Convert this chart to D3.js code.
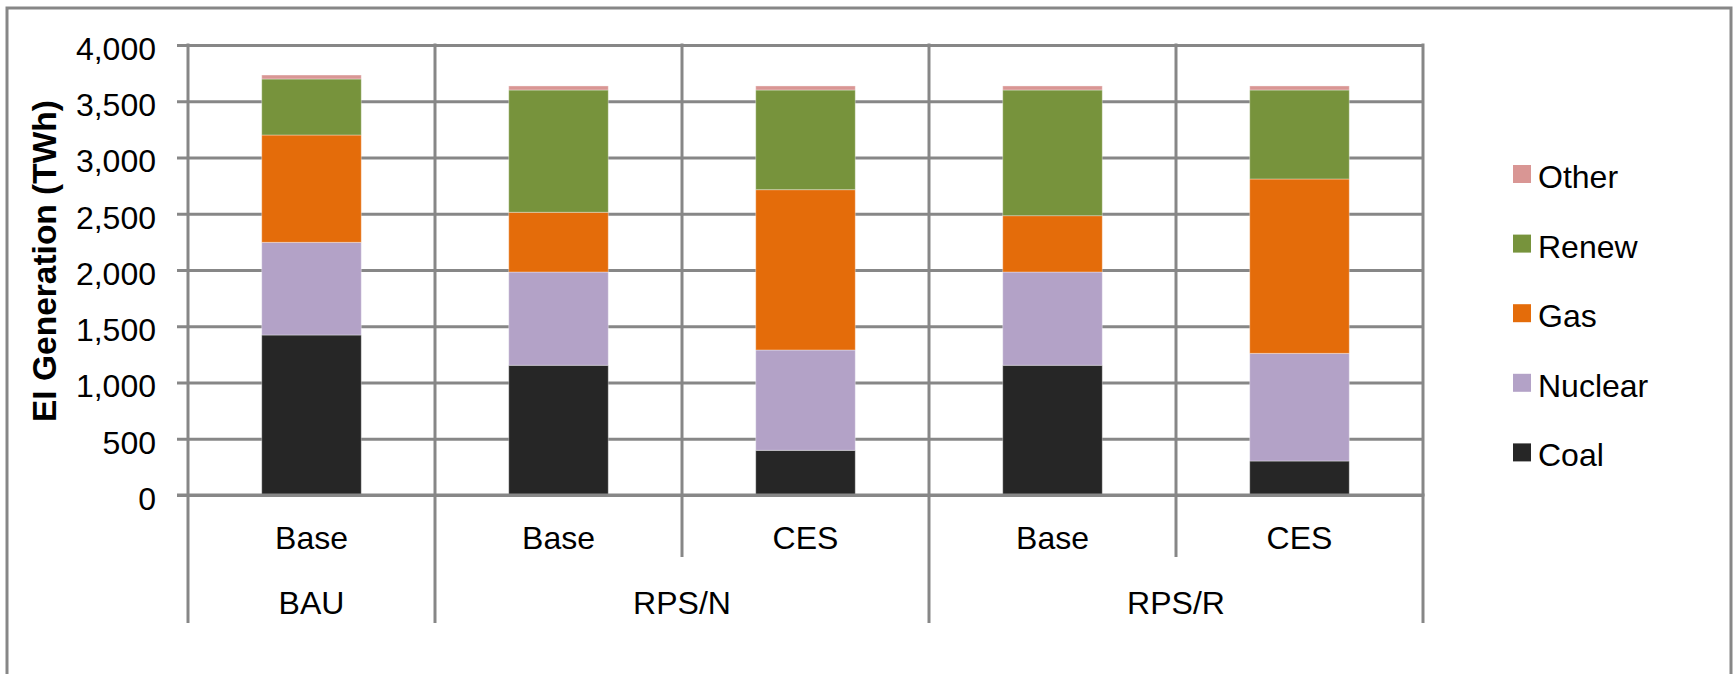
<!DOCTYPE html>
<html>
<head>
<meta charset="utf-8">
<script src="https://cdn.jsdelivr.net/npm/d3@7"></script>
<style>
  html, body { margin: 0; padding: 0; background: #fff; }
  svg { display: block; font-family: "Liberation Sans", Arial, sans-serif; }
</style>
</head>
<body>
<svg id="chart" width="1733" height="674"></svg>
<script>
// ---- data ----
const groups = ["BAU", "RPS/N", "RPS/R"];
const subCategories = ["Base", "Base", "CES", "Base", "CES"];
const groupOf = ["BAU", "RPS/N", "RPS/N", "RPS/R", "RPS/R"];
const seriesNames = ["Coal", "Nuclear", "Gas", "Renew", "Other"];
const coal    = [1422, 1153, 397, 1153, 302];
const nuclear = [824, 829, 892, 829, 957];
const gas     = [954, 531, 1425, 501, 1550];
const renew   = [498, 1087, 886, 1117, 791];
const other   = [35, 36, 36, 36, 36];
const yTicks = [0, 500, 1000, 1500, 2000, 2500, 3000, 3500, 4000];
const yTitle = "EI Generation (TWh)";

const colors = {
  Coal: "#262626",
  Nuclear: "#b3a2c7",
  Gas: "#e46c0a",
  Renew: "#77933c",
  Other: "#d99694"
};

const svg = d3.select("#chart");
const gridColor = "#878787";

// layout
const plotLeft = 188, plotRight = 1423, plotTop = 45, plotBottom = 495;

// outer border
svg.append("rect")
  .attr("x", 7).attr("y", 8)
  .attr("width", 1724).attr("height", 700)
  .attr("fill", "#fff")
  .attr("stroke", gridColor).attr("stroke-width", 3);

const idx = d3.range(subCategories.length);
const x = d3.scaleBand().domain(idx).range([plotLeft, plotRight]).padding(0);
const y = d3.scaleLinear().domain([0, 4000]).range([plotBottom, plotTop]);

// y axis with gridlines
const yAxis = d3.axisLeft(y)
  .tickValues(yTicks)
  .tickSize(plotRight - 177)
  .tickPadding(21)
  .tickFormat(d3.format(","));
const gy = svg.append("g")
  .attr("transform", `translate(${plotRight},0)`)
  .call(yAxis);
gy.select(".domain").remove();
gy.selectAll(".tick line").attr("stroke", gridColor).attr("stroke-width", 3);
gy.selectAll(".tick text")
  .attr("font-size", 32)
  .attr("fill", "#000")
  .attr("dy", "0.45em")
  .style("font-family", "'Liberation Sans', Arial, sans-serif");

// vertical dividers
const boundaries = [];
for (let i = 0; i <= idx.length; i++) {
  const xpos = i < idx.length ? x(i) : plotRight;
  let isGroup = true;
  if (i > 0 && i < idx.length && groupOf[i] === groupOf[i - 1]) isGroup = false;
  boundaries.push({ x: xpos, group: isGroup });
}
svg.append("g").selectAll("line")
  .data(boundaries)
  .join("line")
  .attr("x1", d => d.x).attr("x2", d => d.x)
  .attr("y1", plotTop - 1.5)
  .attr("y2", d => d.group ? 623 : 557)
  .attr("stroke", gridColor).attr("stroke-width", 3);

// stacked bars
const table = idx.map(i => ({
  i, Coal: coal[i], Nuclear: nuclear[i], Gas: gas[i], Renew: renew[i], Other: other[i]
}));
const stack = d3.stack().keys(seriesNames)(table);
const bw = x.bandwidth() * 0.403;
const off = (x.bandwidth() - bw) / 2;

svg.append("g").selectAll("g")
  .data(stack)
  .join("g")
  .attr("fill", d => colors[d.key])
  .selectAll("rect")
  .data(d => d)
  .join("rect")
  .attr("x", d => x(d.data.i) + off)
  .attr("width", bw)
  .attr("y", d => y(d[1]))
  .attr("height", d => y(d[0]) - y(d[1]))
  .attr("stroke", "rgba(255,255,255,0.35)")
  .attr("stroke-width", 1);

// redraw x baseline over bars
svg.append("line")
  .attr("x1", 177).attr("x2", plotRight + 1.5)
  .attr("y1", y(0)).attr("y2", y(0))
  .attr("stroke", gridColor).attr("stroke-width", 3);

// sub-category labels
svg.append("g").selectAll("text")
  .data(idx)
  .join("text")
  .attr("x", i => x(i) + x.bandwidth() / 2)
  .attr("y", 548.5)
  .attr("text-anchor", "middle")
  .attr("font-size", 32)
  .text(i => subCategories[i]);

// group labels
const groupSpans = groups.map(g => {
  const members = idx.filter(i => groupOf[i] === g);
  const x0 = x(members[0]);
  const x1 = x(members[members.length - 1]) + x.bandwidth();
  return { g, cx: (x0 + x1) / 2 };
});
svg.append("g").selectAll("text")
  .data(groupSpans)
  .join("text")
  .attr("x", d => d.cx)
  .attr("y", 613.5)
  .attr("text-anchor", "middle")
  .attr("font-size", 32)
  .text(d => d.g);

// y title
svg.append("text")
  .attr("transform", "translate(56,261) rotate(-90)")
  .attr("text-anchor", "middle")
  .attr("font-size", 33.5)
  .attr("font-weight", "bold")
  .text(yTitle);

// legend (reverse order: Other at top)
const legendOrder = seriesNames.slice().reverse();
const lg = svg.append("g").selectAll("g")
  .data(legendOrder)
  .join("g")
  .attr("transform", (d, k) => `translate(1513,${165 + k * 69.6})`);
lg.append("rect")
  .attr("width", 18).attr("height", 18)
  .attr("fill", d => colors[d]);
lg.append("text")
  .attr("x", 25)
  .attr("y", 23)
  .attr("font-size", 32)
  .text(d => d);
</script>
</body>
</html>
